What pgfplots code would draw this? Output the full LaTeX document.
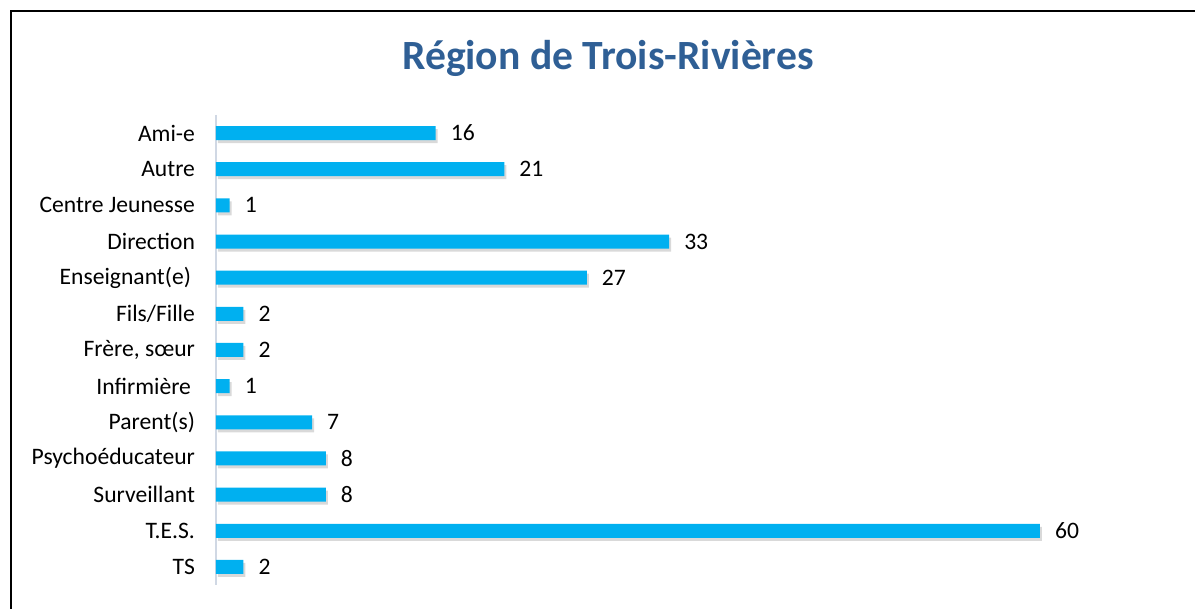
\documentclass[border=0pt]{standalone}
\usepackage{fontspec}
\setmainfont{Carlito}
\usepackage{pgfplots}
\pgfplotsset{compat=1.18}
\usetikzlibrary{shadows}
\definecolor{barcol}{HTML}{00B0F0}
\definecolor{titlecol}{HTML}{2F5F95}
\definecolor{axcol}{HTML}{D0D8E4}
\begin{document}
\begin{tikzpicture}[x=0.5pt,y=0.5pt]
\path[use as bounding box] (0,0) rectangle (1195,609);
\draw[line width=1.3pt] (11,-20) -- (11,598) -- (1210,598);
\node[font=\bfseries\fontsize{20.8}{24}\selectfont, text=titlecol] at (608,551) {Région de Trois-Rivières};
\begin{axis}[
  at={(108pt,12pt)}, anchor=south west,
  scale only axis, width=412pt, height=235pt,
  xmin=0, xmax=60,
  ymin=-0.5, ymax=12.5, y dir=reverse,
  axis x line=none,
  axis y line*=left,
  y axis line style={axcol, line width=0.8pt, -},
  ytick={0,...,12},
  yticklabels={Ami-e,Autre,Centre Jeunesse,Direction,Enseignant(e)\kern2pt,Fils/Fille,{Frère, sœur},Infirmière\kern2pt,Parent(s),Psychoéducateur,Surveillant,T.E.S.,TS},
  major tick length=0pt,
  yticklabel style={font=\fontsize{11.8}{13}\selectfont, xshift=-7pt},
  xbar, bar width=7pt,
  nodes near coords,
  nodes near coords style={font=\fontsize{11.8}{13}\selectfont, black, xshift=4pt, /pgf/number format/assume math mode=true},
  clip=false,
]
\addplot[fill=barcol, draw=none, drop shadow={shadow xshift=1pt, shadow yshift=-1.5pt, opacity=0.3}] coordinates {
(16,0) (21,1) (1,2) (33,3) (27,4) (2,5) (2,6) (1,7) (7,8) (8,9) (8,10) (60,11) (2,12)};
\end{axis}
\end{tikzpicture}
\end{document}
